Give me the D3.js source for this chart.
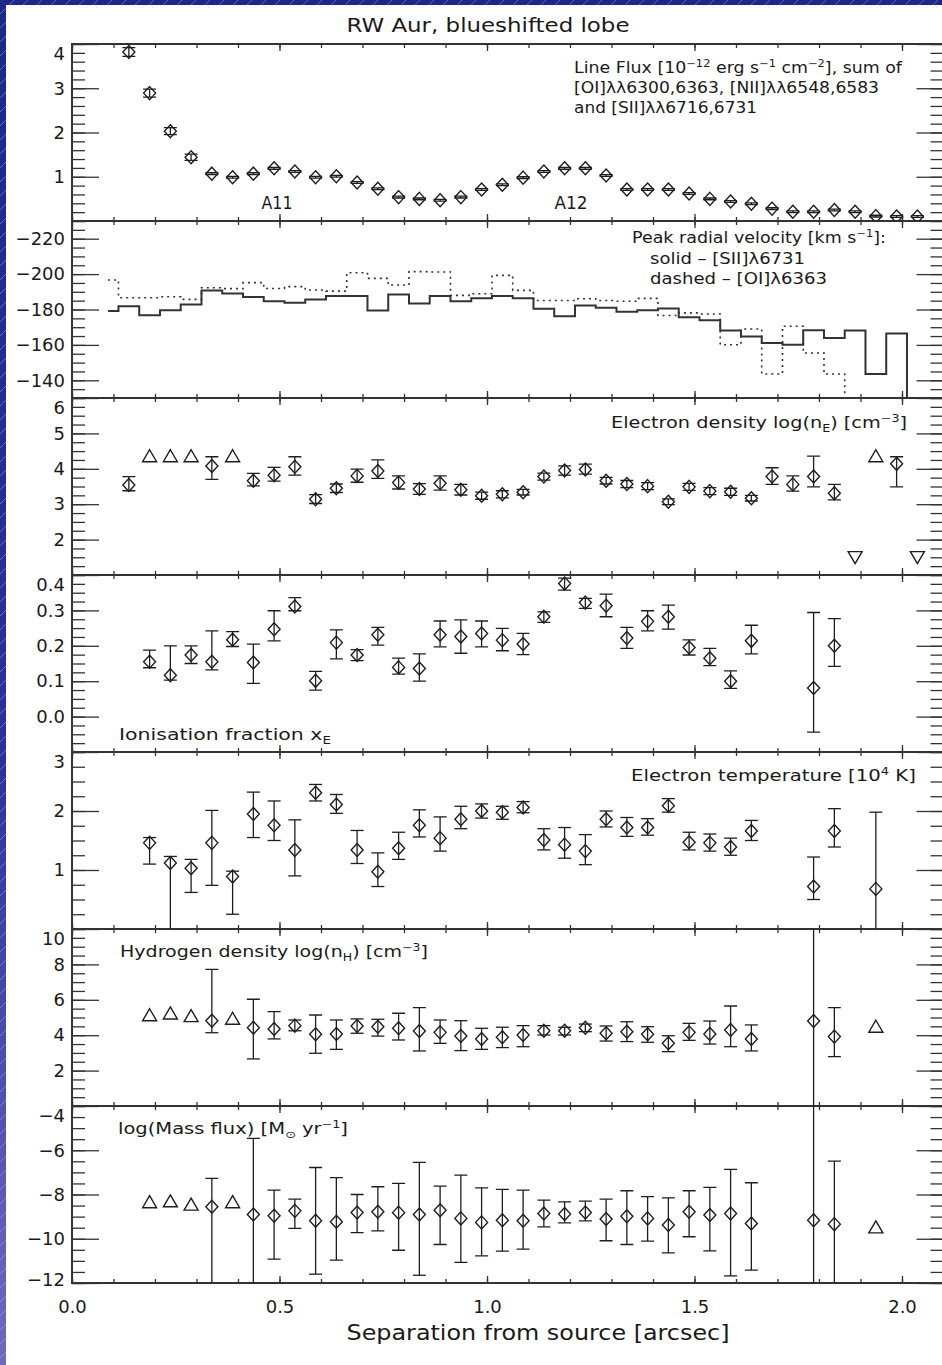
<!DOCTYPE html>
<html>
<head>
<meta charset="utf-8">
<script src="https://cdn.jsdelivr.net/npm/d3@7"></script>
<style>
  html, body { margin: 0; padding: 0; background: #fff; }
  svg { display: block; }
  text { font-family: "DejaVu Sans", sans-serif; fill: #1a1a1a; }
  .tick line { stroke: #333; stroke-width: 1.3; }
  .tick text { font-size: 18px; fill: #1a1a1a; }
</style>
</head>
<body>
<svg id="chart" width="942" height="1365"></svg>
<script>
// ---- data ----
// separation of each slit position [arcsec]
const sep = [0.137, 0.187, 0.237, 0.287, 0.337, 0.387, 0.437, 0.487, 0.537, 0.587,
             0.637, 0.687, 0.737, 0.787, 0.837, 0.887, 0.937, 0.987, 1.037, 1.087,
             1.137, 1.187, 1.237, 1.287, 1.337, 1.387, 1.437, 1.487, 1.537, 1.587,
             1.637, 1.687, 1.737, 1.787, 1.837, 1.887, 1.937, 1.987, 2.037];
// velocity profiles start one bin earlier
const sepVel = [0.087].concat(sep);

const xTicks = [0, 0.5, 1.0, 1.5, 2.0];

// panel 1: line flux
const fluxTicks = [1, 2, 3, 4];
const flux = [3.82, 2.89, 2.03, 1.44, 1.07, 0.99, 1.07, 1.19, 1.12, 0.99,
              1.01, 0.87, 0.73, 0.54, 0.50, 0.47, 0.54, 0.71, 0.82, 0.98,
              1.12, 1.19, 1.19, 1.03, 0.71, 0.71, 0.71, 0.62, 0.50, 0.44,
              0.39, 0.28, 0.21, 0.21, 0.25, 0.21, 0.11, 0.10, 0.10];
const fluxErr = [0.10, 0.09, 0.08, 0.07, 0.02, 0.02, 0.02, 0.02, 0.02, 0.02,
                 0.02, 0.02, 0.02, 0.02, 0.02, 0.02, 0.02, 0.02, 0.02, 0.02,
                 0.02, 0.02, 0.02, 0.02, 0.02, 0.02, 0.02, 0.02, 0.02, 0.02,
                 0.02, 0.02, 0.02, 0.02, 0.02, 0.02, 0.02, 0.02, 0.02];

// panel 2: peak radial velocity (null = off the plot)
const velTicks = [-220, -200, -180, -160, -140];
const velSII = [-179.1,
                -181.9, -176.8, -179.6, -182.8, -190.8, -189.1, -187.0, -184.7, -183.8, -185.7,
                -187.6, -187.6, -179.4, -188.5, -183.4, -187.6, -184.7, -186.3, -187.6, -186.3,
                -180.4, -176.2, -182.3, -181.0, -178.7, -179.6, -180.6, -175.6, -173.9, -168.1,
                -164.8, -161.1, -160.1, -168.3, -163.9, -168.1, -143.5, -166.4, null];
const velOI = [-196.7,
               -186.6, -186.6, -187.2, -185.7, -192.3, -191.8, -195.2, -191.9, -192.9, -191.0,
               -190.4, -200.8, -197.6, -193.8, -201.4, -201.2, -188.0, -188.9, -199.3, -190.8,
               -185.1, -185.1, -186.1, -185.1, -184.7, -186.3, -176.6, -178.1, -177.5, -160.1,
               -169.0, -143.6, -170.5, -155.4, -143.6, null, null, null, null];

// marker codes: d = diamond with error bar, u = lower limit, v = upper limit, . = none
// panel 3: electron density
const neTicks = [2, 3, 4, 5, 6];
const neMark = "duuududddd|dddddddddd|dddddddddd|dddddvudv";
const neVal = [3.54, 4.34, 4.34, 4.34, 4.08, 4.34, 3.66, 3.82, 4.06, 3.14,
               3.45, 3.80, 3.94, 3.61, 3.43, 3.59, 3.41, 3.24, 3.28, 3.34,
               3.78, 3.95, 3.98, 3.66, 3.57, 3.51, 3.07, 3.49, 3.37, 3.35,
               3.17, 3.78, 3.56, 3.78, 3.31, 1.52, 4.34, 4.14, 1.52];
const neLo = [3.38, null, null, null, 3.70, null, 3.52, 3.65, 3.82, 3.02,
              3.33, 3.62, 3.73, 3.43, 3.28, 3.40, 3.26, 3.14, 3.18, 3.26,
              3.68, 3.82, 3.85, 3.57, 3.47, 3.41, 2.99, 3.39, 3.27, 3.25,
              3.09, 3.56, 3.37, 3.49, 3.12, null, null, 3.49, null];
const neHi = [3.78, null, null, null, 4.34, null, 3.87, 4.04, 4.34, 3.27,
              3.57, 3.99, 4.25, 3.80, 3.58, 3.80, 3.56, 3.34, 3.38, 3.42,
              3.88, 4.08, 4.13, 3.76, 3.67, 3.61, 3.15, 3.59, 3.47, 3.45,
              3.25, 4.03, 3.80, 4.36, 3.56, null, null, 4.34, null];

// panel 4: ionisation fraction
const xeTicks = [0.0, 0.1, 0.2, 0.3, 0.4];
const xeMark = ".ddddddddd|dddddddddd|dddddddddd|d..dd....";
const xeVal = [null, 0.155, 0.117, 0.174, 0.155, 0.217, 0.153, 0.247, 0.311, 0.101,
               0.209, 0.174, 0.231, 0.139, 0.136, 0.231, 0.226, 0.235, 0.216, 0.205,
               0.282, 0.376, 0.322, 0.313, 0.222, 0.269, 0.282, 0.195, 0.165, 0.100,
               0.214, null, null, 0.081, 0.200, null, null, null, null];
const xeLo = [null, 0.138, 0.103, 0.150, 0.132, 0.198, 0.094, 0.214, 0.299, 0.075,
              0.163, 0.158, 0.202, 0.120, 0.100, 0.197, 0.179, 0.197, 0.186, 0.175,
              0.266, 0.357, 0.306, 0.282, 0.193, 0.242, 0.247, 0.174, 0.144, 0.080,
              0.177, null, null, -0.044, 0.142, null, null, null, null];
const xeHi = [null, 0.188, 0.200, 0.200, 0.242, 0.240, 0.205, 0.299, 0.336, 0.128,
              0.245, 0.189, 0.252, 0.165, 0.177, 0.270, 0.273, 0.270, 0.249, 0.235,
              0.296, 0.391, 0.334, 0.346, 0.252, 0.299, 0.315, 0.217, 0.193, 0.129,
              0.258, null, null, 0.294, 0.277, null, null, null, null];

// panel 5: electron temperature
const teTicks = [1, 2, 3];
const teMark = ".ddddddddd|dddddddddd|dddddddddd|d..dd.d..";
const teVal = [null, 1.46, 1.12, 1.03, 1.46, 0.89, 1.95, 1.76, 1.34, 2.31,
               2.11, 1.34, 0.97, 1.37, 1.76, 1.54, 1.86, 2.00, 1.98, 2.06,
               1.51, 1.43, 1.32, 1.86, 1.72, 1.72, 2.09, 1.47, 1.46, 1.39,
               1.66, null, null, 0.72, 1.66, null, 0.68, null, null];
const teLo = [null, 1.10, -0.5, 0.62, 0.74, 0.25, 1.55, 1.50, 0.90, 2.17,
              1.96, 1.11, 0.72, 1.18, 1.56, 1.32, 1.70, 1.88, 1.86, 1.97,
              1.34, 1.20, 1.09, 1.73, 1.57, 1.59, 1.98, 1.34, 1.32, 1.25,
              1.50, null, null, 0.50, 1.39, null, -0.5, null, null];
const teHi = [null, 1.55, 1.23, 1.18, 2.01, 0.98, 2.32, 2.17, 1.85, 2.45,
              2.28, 1.67, 1.29, 1.64, 2.02, 1.90, 2.08, 2.12, 2.08, 2.16,
              1.70, 1.72, 1.60, 2.00, 1.89, 1.87, 2.21, 1.64, 1.61, 1.54,
              1.84, null, null, 1.22, 2.04, null, 1.98, null, null];

// panel 6: hydrogen density
const nhTicks = [2, 4, 6, 8, 10];
const nhMark = ".uuududddd|dddddddddd|dddddddddd|d..dd.u..";
const nhVal = [null, 5.10, 5.20, 5.05, 4.82, 4.90, 4.42, 4.35, 4.54, 4.05,
               4.07, 4.52, 4.48, 4.39, 4.24, 4.16, 3.95, 3.79, 3.88, 4.01,
               4.25, 4.25, 4.42, 4.11, 4.20, 4.05, 3.54, 4.16, 4.07, 4.29,
               3.79, null, null, 4.80, 3.92, null, 4.45, null, null];
const nhLo = [null, null, null, null, 4.14, null, 2.66, 3.79, 4.25, 2.98,
              3.20, 4.11, 3.95, 3.73, 3.11, 3.54, 3.13, 3.20, 3.30, 3.35,
              4.01, 4.01, 4.20, 3.67, 3.64, 3.60, 3.07, 3.71, 3.50, 3.35,
              3.11, null, null, -5, 2.79, null, null, null, null];
const nhHi = [null, null, null, null, 7.72, null, 6.03, 5.33, 4.86, 5.14,
              4.86, 4.92, 4.90, 5.24, 5.56, 4.86, 4.82, 4.39, 4.45, 4.54,
              4.54, 4.45, 4.63, 4.52, 4.76, 4.48, 3.97, 4.67, 4.80, 5.65,
              4.58, null, null, 15, 5.56, null, null, null, null];

// panel 7: mass flux
const mfTicks = [-4, -6, -8, -10, -12];
const mfMark = ".uuududddd|dddddddddd|dddddddddd|d..dd.u..";
const mfVal = [null, -8.37, -8.33, -8.48, -8.55, -8.37, -8.90, -8.96, -8.74, -9.19,
               -9.23, -8.81, -8.78, -8.82, -8.90, -8.71, -9.08, -9.26, -9.16, -9.19,
               -8.86, -8.88, -8.81, -9.11, -8.98, -9.08, -9.38, -8.78, -8.93, -8.86,
               -9.31, null, null, -9.16, -9.34, null, -9.51, null, null];
const mfLo = [null, null, null, null, -13.5, null, -12.02, -10.92, -9.53, -11.60,
              -10.97, -9.72, -9.64, -10.52, -11.65, -10.26, -11.07, -10.77, -10.56, -10.47,
              -9.46, -9.28, -9.19, -10.09, -10.26, -10.11, -10.64, -9.91, -10.55, -11.68,
              -11.42, null, null, -20, -13.5, null, null, null, null];
const mfHi = [null, null, null, null, -7.27, null, -5.46, -7.80, -8.21, -6.78,
              -7.24, -8.00, -7.65, -7.50, -6.55, -7.62, -7.12, -7.70, -7.77, -7.80,
              -8.25, -8.33, -8.30, -8.21, -7.83, -8.10, -8.15, -7.83, -7.68, -6.86,
              -7.47, null, null, 0, -6.49, null, null, null, null];

// ---- layout ----
const W = 942, H = 1365;
const plotTop = 44, panelH = 177;
const x = d3.scaleLinear().domain([0, 2.1]).range([72, 943.5]);
const x0 = x.range()[0], x1 = x.range()[1];

const svg = d3.select("#chart");
const defs = svg.append("defs");

// blue hatched frame behind the white page
const grad = defs.append("linearGradient").attr("id", "frameGrad")
    .attr("x1", 0).attr("y1", 0).attr("x2", 0).attr("y2", 1);
grad.append("stop").attr("offset", "0%").attr("stop-color", "#1d2789");
grad.append("stop").attr("offset", "55%").attr("stop-color", "#2c309d");
grad.append("stop").attr("offset", "100%").attr("stop-color", "#6d6bbb");
const hatch = defs.append("pattern").attr("id", "hatch")
    .attr("patternUnits", "userSpaceOnUse").attr("width", 14).attr("height", 14);
hatch.append("path").attr("d", "M0,14L14,0")
    .attr("stroke", "rgba(170,180,255,0.45)").attr("stroke-width", 1);
svg.append("rect").attr("width", W).attr("height", H).attr("fill", "url(#frameGrad)");
svg.append("rect").attr("width", W).attr("height", H).attr("fill", "url(#hatch)");
svg.append("rect").attr("x", 6).attr("y", 5).attr("width", W - 6).attr("height", H - 5).attr("fill", "#fff");

const panels = [
  { domain: [0, 4], ticks: fluxTicks, minor: 0.2, fmt: d3.format("d") },
  { domain: [-130, -230], ticks: velTicks, minor: 5, fmt: d3.format("d") },
  { domain: [1, 6], ticks: neTicks, minor: 0.25, fmt: d3.format("d") },
  { domain: [-0.1, 0.4], ticks: xeTicks, minor: 0.025, fmt: d3.format(".1f") },
  { domain: [0, 3], ticks: teTicks, minor: 0.25, fmt: d3.format("d") },
  { domain: [0, 10], ticks: nhTicks, minor: 0.5, fmt: d3.format("d") },
  { domain: [-12, -4], ticks: mfTicks, minor: 0.5, fmt: d3.format("d") }
];

const xMinor = d3.range(0, 22).map(i => i * 0.1);
const ink = "#1e1e1e";

function noDomain(g) { g.select(".domain").remove(); g.attr("font-family", null).attr("font-size", null); }

// marker shapes
function diamond(cx, cy) {
  return `M${cx},${cy - 6.5}L${cx + 6},${cy}L${cx},${cy + 6.5}L${cx - 6},${cy}Z`;
}
function triUp(cx, cy) {
  return `M${cx},${cy - 7}L${cx + 7},${cy + 5}L${cx - 7},${cy + 5}Z`;
}
function triDown(cx, cy) {
  return `M${cx},${cy + 7}L${cx + 7},${cy - 5}L${cx - 7},${cy - 5}Z`;
}

// error bars + markers from value / bound arrays
function drawPoints(g, y, vals, lo, hi, marks) {
  const codes = marks.replace(/\|/g, "").split("");
  vals.forEach((v, k) => {
    const m = codes[k];
    if (v === null || m === ".") return;
    const cx = x(sep[k]), cy = y(v);
    if (m === "d") {
      if (lo[k] !== null) {
        const ya = y(lo[k]), yb = y(hi[k]);
        g.append("line").attr("x1", cx).attr("x2", cx).attr("y1", ya).attr("y2", yb)
            .attr("stroke", ink).attr("stroke-width", 1.3);
        [ya, yb].forEach(yy => g.append("line")
            .attr("x1", cx - 6.5).attr("x2", cx + 6.5).attr("y1", yy).attr("y2", yy)
            .attr("stroke", ink).attr("stroke-width", 1.3));
      }
      g.append("path").attr("d", diamond(cx, cy));
    } else if (m === "u") {
      g.append("path").attr("d", triUp(cx, cy));
    } else if (m === "v") {
      g.append("path").attr("d", triDown(cx, cy));
    }
  });
  g.selectAll("path").attr("fill", "none").attr("stroke", ink).attr("stroke-width", 1.4);
}

// text with super/subscripts
function richText(parts, o) {
  const t = svg.append("text")
      .attr("x", o.x).attr("y", o.y)
      .attr("text-anchor", o.anchor || "start")
      .style("font-size", o.size + "px");
  let shift = 0;
  parts.forEach(p => {
    const kind = Array.isArray(p) ? p[1] : "";
    const str = Array.isArray(p) ? p[0] : p;
    const target = kind === "sup" ? -o.size * 0.42 : kind === "sub" ? o.size * 0.28 : 0;
    t.append("tspan")
        .attr("dy", target - shift)
        .style("font-size", kind ? (o.size * 0.66) + "px" : null)
        .text(str);
    shift = target;
  });
  if (o.len) t.attr("textLength", o.len).attr("lengthAdjust", "spacingAndGlyphs");
  return t;
}

const scales = [];

panels.forEach((p, i) => {
  const top = plotTop + i * panelH, bottom = top + panelH;
  const y = d3.scaleLinear().domain(p.domain).range([bottom, top]);
  scales.push(y);
  const [lo, hi] = d3.extent(p.domain);
  const minors = d3.range(0, Math.round((hi - lo) / p.minor) + 1).map(j => lo + j * p.minor);

  const g = svg.append("g");

  // left axis with labels
  g.append("g").attr("transform", `translate(${x0},0)`)
      .call(d3.axisLeft(y).tickValues(p.ticks).tickSize(-27).tickPadding(7).tickFormat(p.fmt))
      .call(noDomain)
      .call(a => a.selectAll(".tick text")
          .attr("y", d => d === p.domain[1] ? 10 : (d === p.domain[0] ? -3 : 0)));
  g.append("g").attr("transform", `translate(${x0},0)`)
      .call(d3.axisLeft(y).tickValues(minors).tickSize(-13).tickFormat(""))
      .call(noDomain);
  // right axis
  g.append("g").attr("transform", `translate(${x1},0)`)
      .call(d3.axisRight(y).tickValues(p.ticks).tickSize(-27).tickFormat(""))
      .call(noDomain);
  g.append("g").attr("transform", `translate(${x1},0)`)
      .call(d3.axisRight(y).tickValues(minors).tickSize(-13).tickFormat(""))
      .call(noDomain);
  // top and bottom ticks
  g.append("g").attr("transform", `translate(0,${top})`)
      .call(d3.axisTop(x).tickValues(xTicks).tickSize(-7).tickFormat(""))
      .call(noDomain);
  g.append("g").attr("transform", `translate(0,${top})`)
      .call(d3.axisTop(x).tickValues(xMinor).tickSize(-4).tickFormat(""))
      .call(noDomain);
  g.append("g").attr("transform", `translate(0,${bottom})`)
      .call(d3.axisBottom(x).tickValues(xTicks).tickSize(-7).tickPadding(17)
          .tickFormat(i === panels.length - 1 ? d3.format(".1f") : ""))
      .call(noDomain);
  g.append("g").attr("transform", `translate(0,${bottom})`)
      .call(d3.axisBottom(x).tickValues(xMinor).tickSize(-4).tickFormat(""))
      .call(noDomain);

  // clip region for the data
  defs.append("clipPath").attr("id", "clip" + i)
    .append("rect").attr("x", x0).attr("y", top).attr("width", x1 - x0).attr("height", panelH);

  // frame
  g.append("rect").attr("x", x0).attr("y", top).attr("width", x1 - x0).attr("height", panelH)
      .attr("fill", "none").attr("stroke", "#333").attr("stroke-width", 2);
});

const layer = i => svg.append("g").attr("clip-path", `url(#clip${i})`);

// panel 1: flux with small error bars
drawPoints(layer(0), scales[0], flux,
  flux.map((v, k) => v - fluxErr[k]), flux.map((v, k) => v + fluxErr[k]),
  "d".repeat(flux.length));

// panel 2: histogram-style velocity profiles
const vy = scales[1];
const offPlot = vy.domain()[0] + 30;
const step = d3.line()
    .x(d => x(d[0]))
    .y(d => vy(d[1] === null ? offPlot : d[1]))
    .curve(d3.curveStep);
const vLayer = layer(1);
vLayer.append("path").datum(sepVel.map((s, j) => [s, velSII[j]]))
    .attr("d", step).attr("fill", "none").attr("stroke", "#333").attr("stroke-width", 2);
vLayer.append("path").datum(sepVel.map((s, j) => [s, velOI[j]]))
    .attr("d", step).attr("fill", "none").attr("stroke", "#333").attr("stroke-width", 1.6)
    .attr("stroke-dasharray", "2,4");

drawPoints(layer(2), scales[2], neVal, neLo, neHi, neMark);
drawPoints(layer(3), scales[3], xeVal, xeLo, xeHi, xeMark);
drawPoints(layer(4), scales[4], teVal, teLo, teHi, teMark);
drawPoints(layer(5), scales[5], nhVal, nhLo, nhHi, nhMark);
drawPoints(layer(6), scales[6], mfVal, mfLo, mfHi, mfMark);

// ---- texts ----
richText(["RW Aur, blueshifted lobe"], { x: 488, y: 32, size: 20, anchor: "middle", len: 283 });

richText(["Line Flux [10", ["−12", "sup"], " erg s", ["−1", "sup"], " cm", ["−2", "sup"], "], sum of"],
  { x: 574, y: 73, size: 15, len: 328 });
richText(["[OI]λλ6300,6363, [NII]λλ6548,6583"], { x: 574, y: 93, size: 15, len: 305 });
richText(["and [SII]λλ6716,6731"], { x: 574, y: 113, size: 15, len: 183 });
richText(["A11"], { x: 277, y: 209, size: 17, anchor: "middle", len: 31 });
richText(["A12"], { x: 571, y: 209, size: 17, anchor: "middle", len: 33 });

richText(["Peak radial velocity [km s", ["−1", "sup"], "]:"], { x: 632, y: 243, size: 15, len: 254 });
richText(["solid – [SII]λ6731"], { x: 650, y: 264, size: 15, len: 155 });
richText(["dashed – [OI]λ6363"], { x: 650, y: 284, size: 15, len: 177 });

richText(["Electron density log(n", ["E", "sub"], ") [cm", ["−3", "sup"], "]"],
  { x: 907, y: 428, size: 15, anchor: "end", len: 296 });
richText(["Ionisation fraction x", ["E", "sub"]], { x: 119, y: 740, size: 15, len: 212 });
richText(["Electron temperature [10", ["4", "sup"], " K]"],
  { x: 916, y: 781, size: 15, anchor: "end", len: 285 });
richText(["Hydrogen density log(n", ["H", "sub"], ") [cm", ["−3", "sup"], "]"],
  { x: 120, y: 957, size: 15, len: 308 });
richText(["log(Mass flux) [M", ["⊙", "sub"], " yr", ["−1", "sup"], "]"],
  { x: 118, y: 1134, size: 15, len: 230 });

richText(["Separation from source [arcsec]"], { x: 538, y: 1340, size: 21, anchor: "middle", len: 383 });
</script>
</body>
</html>
